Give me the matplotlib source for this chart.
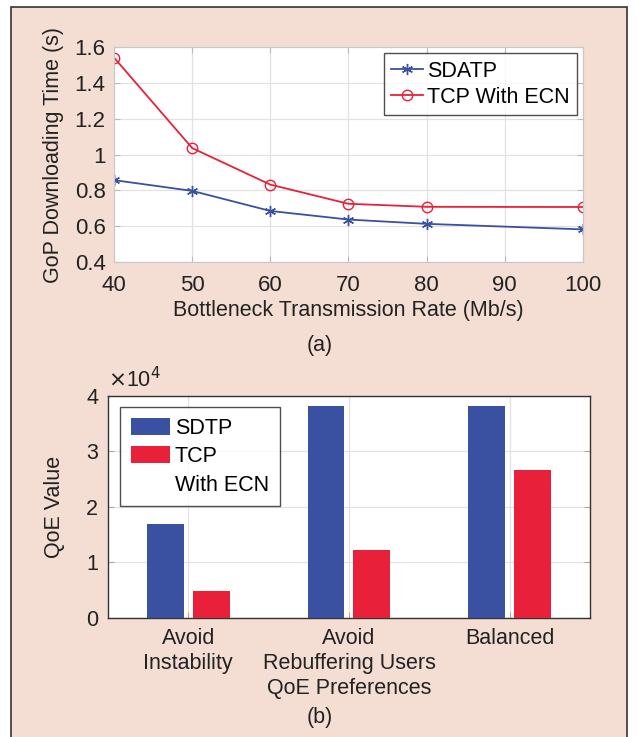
import numpy as np
import matplotlib
matplotlib.use("Agg")
import matplotlib.pyplot as plt
from matplotlib.patches import Rectangle

plt.rcParams['font.family'] = ['Liberation Sans', 'DejaVu Sans']

# (a) GoP downloading time
rates = [40, 50, 60, 70, 80, 100]
sdatp_time = [0.857, 0.797, 0.685, 0.637, 0.613, 0.582]
tcp_time = [1.541, 1.036, 0.832, 0.725, 0.708, 0.707]

# (b) QoE value
scenarios = ["Avoid\nInstability", "Avoid\nRebuffering Users\nQoE Preferences", "Balanced"]
sdtp_qoe = [16900, 38250, 38250]
tcp_qoe = [4800, 12300, 26600]

bg = "#f4ded3"
blue = "#3a50a0"
red = "#e8203a"
grid_c = "#e2e2e2"
txt = "#222222"
fs = 15.5
fs_tick = 16

fig = plt.figure(figsize=(6.37, 7.37), dpi=100, facecolor="white")
fig.patches.append(Rectangle((11 / 637, -0.05), 616 / 637, 1.05 - 7 / 737,
                             transform=fig.transFigure, facecolor=bg,
                             edgecolor="#333333", linewidth=1.2, zorder=-10))

# ---- top panel
ax1 = fig.add_axes([0.179, 0.6445, 0.736, 0.2917])
ax1.plot(rates, sdatp_time, color=blue, marker=(6, 2, 0), markersize=8, lw=1.3,
         markeredgewidth=1.0, label="SDATP")
ax1.plot(rates, tcp_time, color=red, marker="o", markersize=7.5, lw=1.3,
         markerfacecolor="none", label="TCP With ECN")
ax1.set_xlim(40, 100)
ax1.set_ylim(0.4, 1.6)
ax1.set_xticks([40, 50, 60, 70, 80, 90, 100])
ax1.set_yticks([0.4, 0.6, 0.8, 1.0, 1.2, 1.4, 1.6])
ax1.set_yticklabels(["0.4", "0.6", "0.8", "1", "1.2", "1.4", "1.6"])
ax1.grid(True, color=grid_c, lw=0.9)
ax1.set_axisbelow(True)
for s in ax1.spines.values():
    s.set_color("#c8c8c8")
ax1.tick_params(direction="in", labelsize=fs_tick, colors="#bbbbbb", labelcolor=txt,
                top=True, right=True, length=4, pad=6)
ax1.tick_params(axis="x", pad=9)
ax1.set_xlabel("Bottleneck Transmission Rate (Mb/s)", fontsize=fs, color=txt, labelpad=3)
ax1.set_ylabel("GoP Downloading Time (s)", fontsize=fs, color=txt, labelpad=8)
leg1 = ax1.legend(loc="upper right", bbox_to_anchor=(0.987, 0.972), fontsize=fs,
                  frameon=True, fancybox=False, edgecolor=txt,
                  handlelength=1.5, handletextpad=0.15, borderpad=0.35,
                  labelspacing=0.25, borderaxespad=0)
leg1.get_frame().set_linewidth(1.0)
fig.text(320 / 637, 1 - 345 / 737, "(a)", fontsize=fs,
         color=txt, ha="center", va="center")

# ---- bottom panel
ax2 = fig.add_axes([0.1695, 0.1615, 0.7567, 0.3012])
x = np.arange(1, len(scenarios) + 1)
w = 0.23
b1 = ax2.bar(x - 0.143, sdtp_qoe, width=w, color=blue, zorder=3)
b2 = ax2.bar(x + 0.143, tcp_qoe, width=w, color=red, zorder=3)
ax2.set_xlim(0.5, 3.5)
ax2.set_ylim(0, 40000)
ax2.set_xticks(x)
ax2.set_xticklabels(scenarios, fontsize=fs, color=txt, linespacing=1.25)
ax2.set_yticks([0, 10000, 20000, 30000, 40000])
ax2.set_yticklabels(["0", "1", "2", "3", "4"])
ax2.grid(True, color=grid_c, lw=0.9)
ax2.set_axisbelow(True)
for s in ax2.spines.values():
    s.set_color("#333333")
    s.set_linewidth(1.0)
ax2.tick_params(direction="in", labelsize=fs, labelcolor=txt, colors="#aaaaaa",
                top=False, right=True, length=4, pad=7)
ax2.set_ylabel("QoE Value", fontsize=fs, color=txt, labelpad=15)
ax2.text(0.0, 1.015, r"$\times$10$^4$", transform=ax2.transAxes, fontsize=fs,
         color=txt, ha="left", va="bottom")
blank = Rectangle((0, 0), 1, 1, facecolor="none", edgecolor="none")
leg2 = ax2.legend([b1, b2, blank], ["SDTP", "TCP", "With ECN"],
                  loc="upper left", bbox_to_anchor=(0.025, 0.95), fontsize=fs,
                  frameon=True, fancybox=False, edgecolor=txt,
                  handlelength=1.8, handleheight=0.85, handletextpad=0.25,
                  borderpad=0.5, labelspacing=0.34, borderaxespad=0)
leg2.get_frame().set_linewidth(1.0)
fig.text(320 / 637, 1 - 717 / 737, "(b)", fontsize=fs,
         color=txt, ha="center", va="center")

fig.savefig("out.png", dpi=100, facecolor="white")
